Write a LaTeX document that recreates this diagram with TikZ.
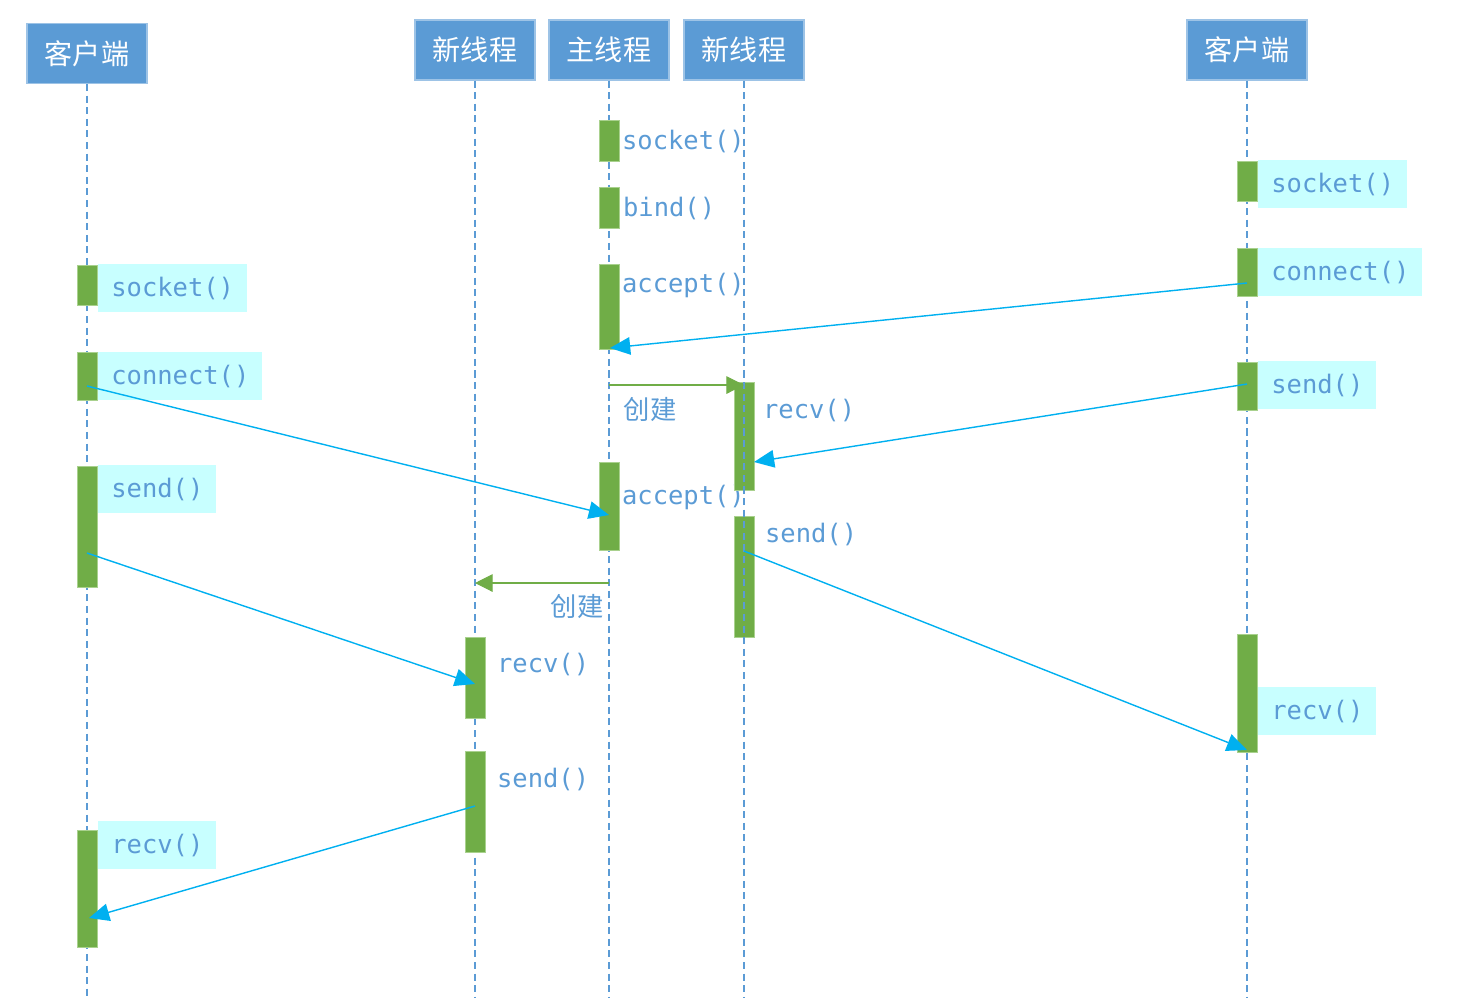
\documentclass[tikz,border=0pt]{standalone}
\usepackage{fontspec}
\setmonofont{DejaVu Sans Mono}
\newfontfamily\cjk{Noto Sans CJK SC}
\usetikzlibrary{arrows.meta}
\definecolor{headblue}{HTML}{5B9BD5}
\definecolor{headedge}{HTML}{9DC3E6}
\definecolor{bargreen}{HTML}{70AD47}
\definecolor{baredge}{HTML}{A9D18E}
\definecolor{tagcyan}{HTML}{C8FFFF}
\definecolor{msgblue}{HTML}{00B0F0}
\begin{document}
\begin{tikzpicture}[x=0.2mm, y=-0.2mm,
    head/.style={fill=headblue, draw=headedge, line width=0.6pt, text=white,
        minimum width=24mm, minimum height=12mm, inner sep=0pt,
        font=\cjk\fontsize{16}{18}\selectfont},
    lifeline/.style={draw=headblue, line width=0.6pt, dash pattern=on 4pt off 2.6pt},
    bar/.style={fill=bargreen, draw=baredge, line width=0.4pt, anchor=north,
        minimum width=4mm, inner sep=0pt},
    tag/.style={fill=tagcyan, anchor=north west, minimum height=9.6mm,
        inner xsep=7.4pt, inner ysep=0pt, text=headblue,
        font=\ttfamily\fontsize{14.5}{17}\selectfont},
    call/.style={anchor=west, inner xsep=1pt, text=headblue,
        font=\ttfamily\fontsize{14.5}{17}\selectfont},
    note/.style={text=headblue, font=\cjk\fontsize{15}{18}\selectfont},
    msg/.style={draw=msgblue, line width=0.8pt, -{Triangle[length=11.5pt,width=10pt]}},
    spawn/.style={draw=bargreen, line width=0.6pt, -{Triangle[length=10pt,width=10pt]}}]
    \useasboundingbox (0,0) rectangle (1457,998);

    % Participants
    \node[head] (cl) at (87,53.5) {客户端};
    \node[head] (ln) at (475,50) {新线程};
    \node[head] (mt) at (609,50) {主线程};
    \node[head] (rn) at (744,50) {新线程};
    \node[head] (rc) at (1247,50) {客户端};

    % Lifelines
    \coordinate (cl-end) at (87,998);
    \coordinate (ln-end) at (475,998);
    \coordinate (mt-end) at (609,998);
    \coordinate (rn-end) at (744,998);
    \coordinate (rc-end) at (1247,998);
    \draw[lifeline] (cl.south) -- (cl-end);
    \draw[lifeline] (ln.south) -- (ln-end);
    \draw[lifeline] (mt.south) -- (mt-end);
    \draw[lifeline] (rc.south) -- (rc-end);

    % Left client
    \node[bar, minimum height=8mm] (cl-socket) at (87,265) {};
    \node[bar, minimum height=9.6mm] (cl-connect) at (87,352) {};
    \node[bar, minimum height=24.2mm] (cl-send) at (87,466) {};
    \node[bar, minimum height=23.4mm] (cl-recv) at (87,830) {};
    \node[tag] (cl-socket-t) at (98,264) {socket()};
    \node[tag] (cl-connect-t) at (98,352) {connect()};
    \node[tag] (cl-send-t) at (98,465) {send()};
    \node[tag] (cl-recv-t) at (98,821) {recv()};

    % Main thread
    \node[bar, minimum height=8.2mm] (mt-socket) at (609,120) {};
    \node[bar, minimum height=8.2mm] (mt-bind) at (609,187) {};
    \node[bar, minimum height=17mm] (mt-accept) at (609,264) {};
    \node[bar, minimum height=17.6mm] (mt-accept2) at (609,462) {};
    \node[call] (mt-socket-t) at (620,141) {socket()};
    \node[call] (mt-bind-t) at (621,208) {bind()};
    \node[call] (mt-accept-t) at (620,285) {accept()};
    \node[call] (mt-accept2-t) at (620,497) {accept()};

    % Left new thread
    \node[bar, minimum height=16.2mm] (ln-recv) at (475,637) {};
    \node[bar, minimum height=20.2mm] (ln-send) at (475,751) {};
    \node[call] (ln-recv-t) at (495,664) {recv()};
    \node[call] (ln-send-t) at (495,779) {send()};

    % Right new thread
    \node[bar, minimum height=21.6mm] (rn-recv) at (744,382) {};
    \node[bar, minimum height=24.2mm] (rn-send) at (744,516) {};
    \draw[lifeline] (rn.south) -- (rn-end);
    \node[call] (rn-recv-t) at (761,410) {recv()};
    \node[call] (rn-send-t) at (763,534) {send()};

    % Right client
    \node[bar, minimum height=8mm] (rc-socket) at (1247,161) {};
    \node[bar, minimum height=9.6mm] (rc-connect) at (1247,248) {};
    \node[bar, minimum height=9.6mm] (rc-send) at (1247,362) {};
    \node[bar, minimum height=23.6mm] (rc-recv) at (1247,634) {};
    \node[tag] (rc-socket-t) at (1258,160) {socket()};
    \node[tag] (rc-connect-t) at (1258,248) {connect()};
    \node[tag] (rc-send-t) at (1258,361) {send()};
    \node[tag] (rc-recv-t) at (1258,687) {recv()};

    % Message ends
    \coordinate (rc-c-out) at (1247,283);
    \coordinate (mt-a-in) at (610,348);
    \coordinate (rc-s-out) at (1247,384);
    \coordinate (rn-r-in) at (754,462);
    \coordinate (cl-c-out) at (87,386);
    \coordinate (mt-a2-in) at (609,515);
    \coordinate (cl-s-out) at (87,553);
    \coordinate (ln-r-in) at (475,684);
    \coordinate (rn-s-out) at (744,551);
    \coordinate (rc-r-in) at (1247,750);
    \coordinate (ln-s-out) at (475,806);
    \coordinate (cl-r-in) at (89,918);
    \coordinate (mt-new1) at (609,385);
    \coordinate (rn-new) at (744,385);
    \coordinate (mt-new2) at (609,583);
    \coordinate (ln-new) at (475,583);

    % Messages
    \draw[msg] (rc-c-out) -- (mt-a-in);
    \draw[msg] (rc-s-out) -- (rn-r-in);
    \draw[msg] (cl-c-out) -- (mt-a2-in);
    \draw[msg] (cl-s-out) -- (ln-r-in);
    \draw[msg] (rn-s-out) -- (rc-r-in);
    \draw[msg] (ln-s-out) -- (cl-r-in);

    % Thread creation
    \draw[spawn] (mt-new1) -- (rn-new);
    \draw[spawn] (mt-new2) -- (ln-new);
    \node[note] (new1-t) at (650,409) {创建};
    \node[note] (new2-t) at (577,606) {创建};
\end{tikzpicture}
\end{document}
